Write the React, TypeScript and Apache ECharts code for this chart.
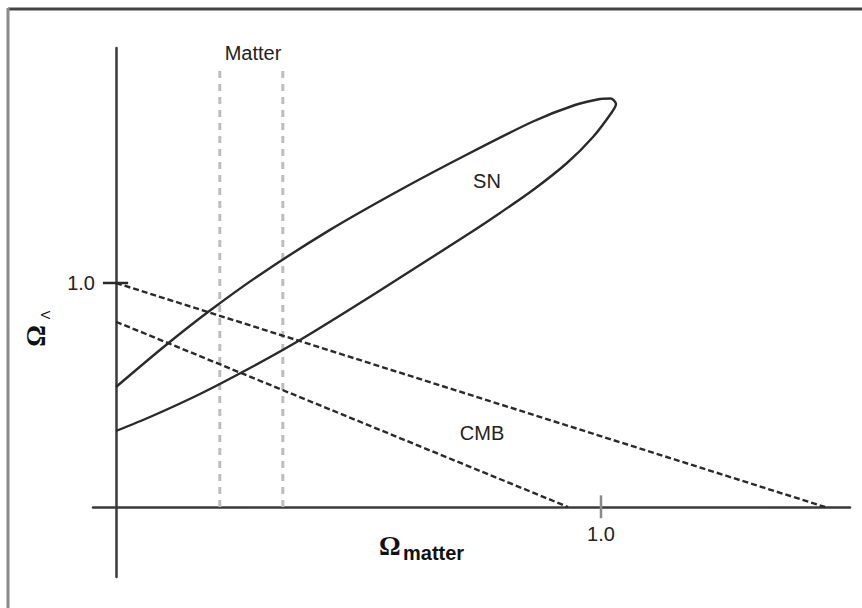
import React, { useEffect, useRef } from "react";
import * as echarts from "echarts";

// ---- data (Ω_matter, Ω_Λ) ----
const xTickValues = [1.0];
const yTickValues = [1.0];
const xTickLabels = ["1.0"];
const yTickLabels = ["1.0"];

// SN confidence contour, upper branch (left -> tip) then lower branch (tip -> left)
const snContour: number[][] = [
  [0, 0.5357],
  [0.0969, 0.7121],
  [0.1938, 0.8768],
  [0.2969, 1.0371],
  [0.4412, 1.2371],
  [0.5856, 1.4152],
  [0.7237, 1.5737],
  [0.8598, 1.721],
  [0.9464, 1.7946],
  [0.9979, 1.8214],
  [1.0206, 1.8237],
  [1.0309, 1.7991],
  [1.0227, 1.7634],
  [0.9835, 1.6518],
  [0.9299, 1.5357],
  [0.8598, 1.4152],
  [0.7918, 1.3125],
  [0.7361, 1.2321],
  [0.5361, 0.9554],
  [0.3794, 0.7455],
  [0.2763, 0.6205],
  [0.1732, 0.5045],
  [0.0701, 0.4018],
  [0, 0.3393],
];

// CMB band edges
const cmbUpper: number[][] = [
  [0, 1.0],
  [1.462, 0],
];
const cmbLower: number[][] = [
  [0, 0.827],
  [0.932, 0],
];

// Matter band edges (Ω_matter) and top
const matterEdges = [0.214, 0.344];
const matterTop = 1.96;

// tick marks (crossing axes)
const xTickMark: number[][] = [
  [1.0, 0.052],
  [1.0, -0.05],
];
const yTickMark: number[][] = [
  [-0.027, 1.0],
  [0.025, 1.0],
];

export default function App() {
  const ref = useRef<HTMLDivElement>(null);
  useEffect(() => {
    if (!ref.current) return;
    const chart = echarts.init(ref.current, undefined, { renderer: "svg" });
    const dark = "#2a2a2a";
    const axisColor = "#3a3a3a";
    const sans = "'Liberation Sans', Arial, Helvetica, sans-serif";
    const serif = "'Liberation Serif', 'Times New Roman', serif";

    const series: any[] = [
      {
        type: "line",
        data: snContour,
        smooth: 0.25,
        symbol: "none",
        lineStyle: { color: dark, width: 2.4 },
        z: 5,
      },
      {
        type: "line",
        data: cmbUpper,
        symbol: "none",
        lineStyle: { color: dark, width: 2.4, type: [6, 3] },
        z: 4,
      },
      {
        type: "line",
        data: cmbLower,
        symbol: "none",
        lineStyle: { color: dark, width: 2.4, type: [6, 3] },
        z: 4,
      },
      ...matterEdges.map((m) => ({
        type: "line",
        data: [
          [m, 0],
          [m, matterTop],
        ],
        symbol: "none",
        lineStyle: { color: "#bdbdbd", width: 3, type: [7, 6] },
        z: 2,
      })),
      {
        type: "line",
        data: xTickMark,
        symbol: "none",
        lineStyle: { color: "#8a8a8a", width: 2.5 },
        z: 6,
      },
      {
        type: "line",
        data: yTickMark,
        symbol: "none",
        lineStyle: { color: dark, width: 2.5 },
        z: 6,
      },
    ];

    chart.setOption({
      animation: false,
      backgroundColor: "#ffffff",
      grid: { left: 93, right: 12, top: 48, bottom: 31, outerBoundsMode: "none", containLabel: false },
      xAxis: {
        type: "value",
        min: -0.0474,
        max: 1.5134,
        position: "bottom",
        offset: -70,
        splitLine: { show: false },
        axisTick: { show: false },
        axisLine: { show: true, onZero: false, lineStyle: { color: axisColor, width: 2.5 } },
        axisLabel: {
          show: true,
          customValues: xTickValues,
          formatter: (v: number) => xTickLabels[xTickValues.indexOf(v)] ?? v.toFixed(1),
          margin: 17,
          color: "#222",
          fontSize: 20,
          fontFamily: sans,
        },
      },
      yAxis: {
        type: "value",
        min: -0.3125,
        max: 2.049,
        position: "left",
        offset: -23,
        splitLine: { show: false },
        axisTick: { show: false },
        axisLine: { show: true, onZero: false, lineStyle: { color: axisColor, width: 2.5 } },
        axisLabel: {
          show: true,
          customValues: yTickValues,
          formatter: (v: number) => yTickLabels[yTickValues.indexOf(v)] ?? v.toFixed(1),
          margin: 21,
          color: "#222",
          fontSize: 20,
          fontFamily: sans,
        },
      },
      series,
      graphic: [
        // figure frame (top and left edges visible)
        {
          type: "line",
          shape: { x1: 8, y1: 9, x2: 870, y2: 9 },
          style: { stroke: "#444", lineWidth: 3 },
        },
        {
          type: "line",
          shape: { x1: 8, y1: 8, x2: 8, y2: 620 },
          style: { stroke: "#8a8a8a", lineWidth: 3 },
        },
        {
          type: "text",
          x: 253,
          y: 53,
          style: { text: "Matter", fill: "#222", font: `20px ${sans}`, textAlign: "center", textVerticalAlign: "middle" },
        },
        {
          type: "text",
          x: 487,
          y: 181,
          style: { text: "SN", fill: "#222", font: `20px ${sans}`, textAlign: "center", textVerticalAlign: "middle" },
        },
        {
          type: "text",
          x: 482,
          y: 433,
          style: { text: "CMB", fill: "#222", font: `20px ${sans}`, textAlign: "center", textVerticalAlign: "middle" },
        },
        // x axis title
        {
          type: "text",
          x: 379,
          y: 546,
          style: { text: "Ω", fill: "#111", font: `bold 27px ${serif}`, textAlign: "left", textVerticalAlign: "middle" },
        },
        {
          type: "text",
          x: 403,
          y: 553,
          style: { text: "matter", fill: "#111", font: `bold 20px ${sans}`, textAlign: "left", textVerticalAlign: "middle" },
        },
        // y axis title (rotated)
        {
          type: "text",
          x: 36,
          y: 336,
          rotation: Math.PI / 2,
          style: { text: "Ω", fill: "#111", font: `bold 27px ${serif}`, textAlign: "center", textVerticalAlign: "middle" },
        },
        {
          type: "text",
          x: 45,
          y: 315,
          rotation: Math.PI / 2,
          style: { text: "Λ", fill: "#111", font: `13px ${sans}`, textAlign: "center", textVerticalAlign: "middle" },
        },
      ],
    });
    return () => chart.dispose();
  }, []);
  return (
    <div
      ref={ref}
      style={{ position: "fixed", left: 0, top: 0, width: 862, height: 608, background: "#fff" }}
    />
  );
}
